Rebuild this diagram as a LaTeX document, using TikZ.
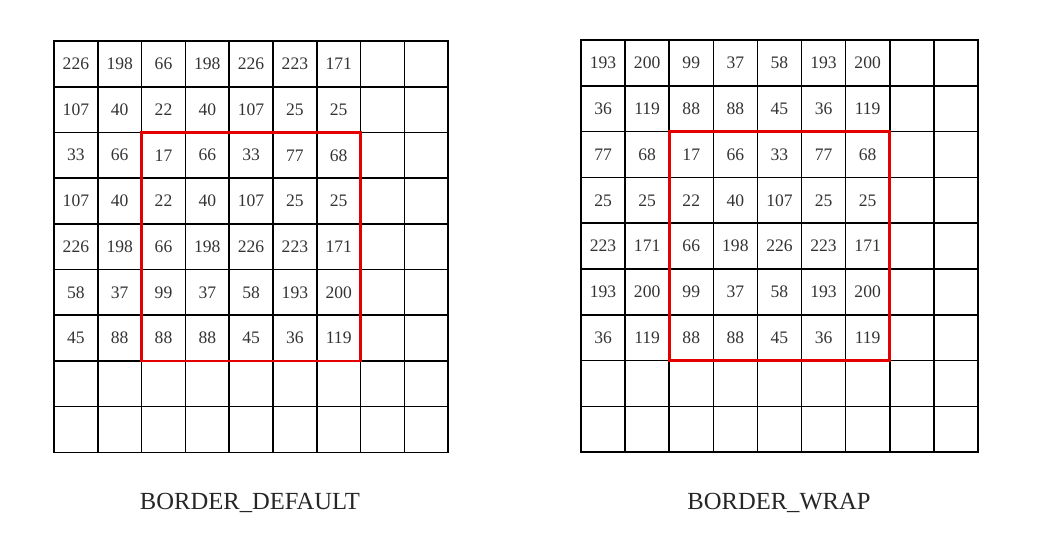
\documentclass[tikz,border=0pt]{standalone}
\usepackage{fontspec}
\setmainfont{Liberation Serif}
\begin{document}
\begin{tikzpicture}[x=0.02cm, y=-0.02cm,
  cell/.style = {draw, line width=0.9pt, inner sep=0pt, outer sep=0pt},
  lcell/.style = {cell, minimum width=0.876cm, minimum height=0.914cm},
  rcell/.style = {cell, minimum width=0.882cm, minimum height=0.916cm},
  num/.style = {text=black!80, font=\fontsize{10}{11}\selectfont},
  redbox/.style = {draw=red!90!black, line width=1.6pt},
  title/.style = {font=\fontsize{14}{16}\selectfont, text=black!85}]
  \useasboundingbox (0,0) rectangle (1037,542);
  % empty 9x9 grids
  \foreach \r in {1,...,9}
    \foreach \c in {1,...,9} {
      \node[lcell] (L-\r-\c) at ({54+43.8*(\c-0.5)}, {41+45.7*(\r-0.5)}) {};
      \node[rcell] (R-\r-\c) at ({581+44.1*(\c-0.5)}, {40+45.8*(\r-0.5)}) {};
    }
  % values, BORDER_DEFAULT
  \foreach \row [count=\r] in {{226,198,66,198,226,223,171},{107,40,22,40,107,25,25},{33,66,17,66,33,77,68},{107,40,22,40,107,25,25},{226,198,66,198,226,223,171},{58,37,99,37,58,193,200},{45,88,88,88,45,36,119}}
    \foreach \v [count=\c] in \row
      \node[num] (l-\r-\c) at (L-\r-\c) {\v};
  % values, BORDER_WRAP
  \foreach \row [count=\r] in {{193,200,99,37,58,193,200},{36,119,88,88,45,36,119},{77,68,17,66,33,77,68},{25,25,22,40,107,25,25},{223,171,66,198,226,223,171},{193,200,99,37,58,193,200},{36,119,88,88,45,36,119}}
    \foreach \v [count=\c] in \row
      \node[num] (w-\r-\c) at (R-\r-\c) {\v};
  % source image
  \draw[redbox] (L-3-3.north west) rectangle (L-7-7.south east);
  \draw[redbox] (R-3-3.north west) rectangle (R-7-7.south east);
  \node[title] (tl) at (250,503) {BORDER\_DEFAULT};
  \node[title] (tr) at (779,503) {BORDER\_WRAP};
\end{tikzpicture}
\end{document}
